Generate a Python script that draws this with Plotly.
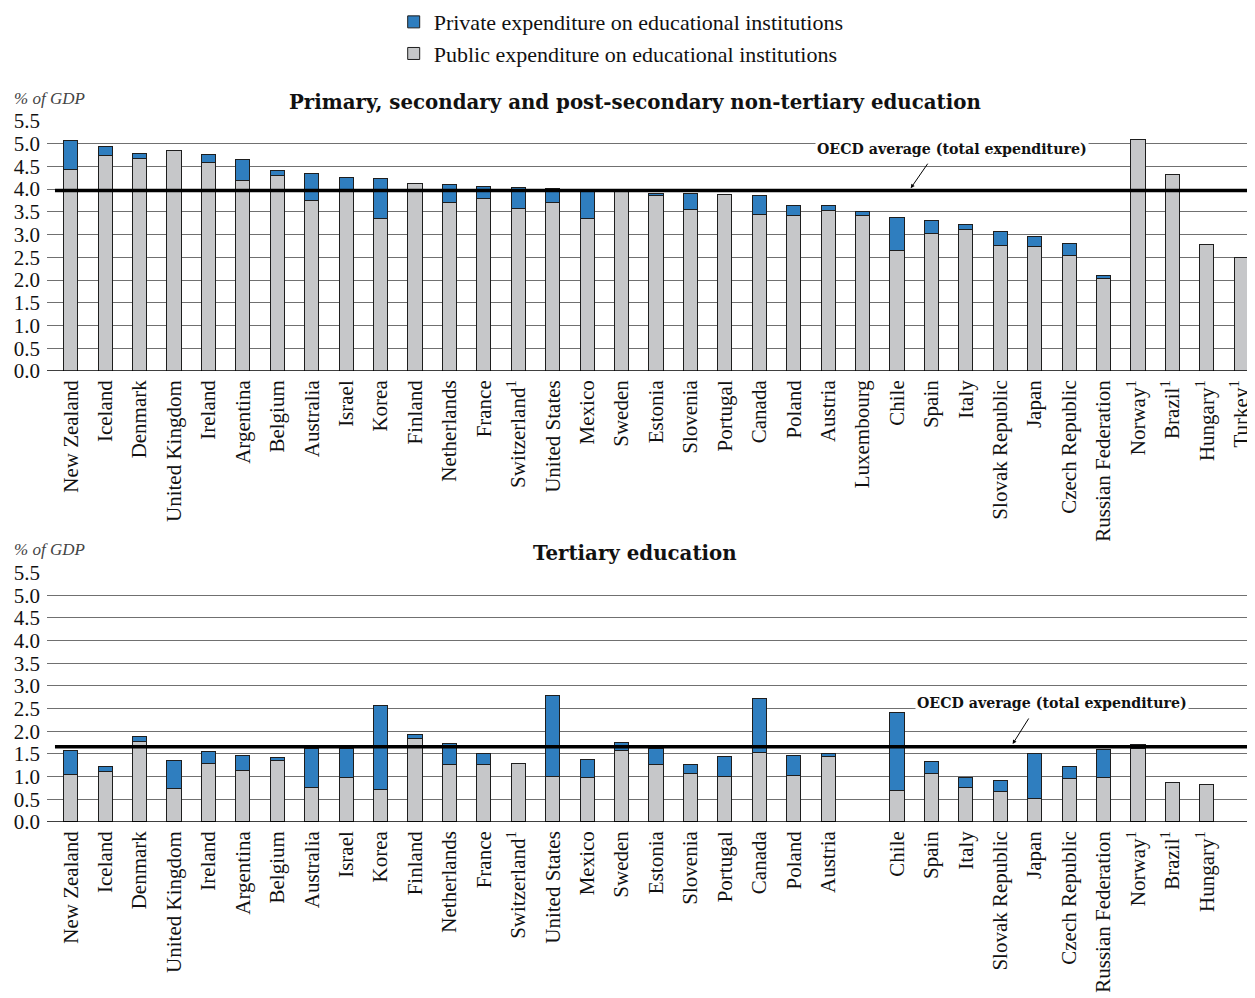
import plotly.graph_objects as go

# Countries (same order in both panels)
paises = [
    "New Zealand", "Iceland", "Denmark", "United Kingdom", "Ireland", "Argentina",
    "Belgium", "Australia", "Israel", "Korea", "Finland", "Netherlands", "France",
    "Switzerland<sup>1</sup>", "United States", "Mexico", "Sweden", "Estonia",
    "Slovenia", "Portugal", "Canada", "Poland", "Austria", "Luxembourg", "Chile",
    "Spain", "Italy", "Slovak Republic", "Japan", "Czech Republic",
    "Russian Federation", "Norway<sup>1</sup>", "Brazil<sup>1</sup>",
    "Hungary<sup>1</sup>", "Turkey<sup>1</sup>",
]

# Primary, secondary and post-secondary non-tertiary (% of GDP)
pub_primaria = [
    4.43, 4.74, 4.68, 4.84, 4.58, 4.19, 4.29, 3.74, 3.95, 3.35, 4.13, 3.71, 3.80,
    3.58, 3.71, 3.36, 3.96, 3.86, 3.56, 3.89, 3.45, 3.43, 3.54, 3.43, 2.65, 3.03,
    3.12, 2.76, 2.74, 2.54, 2.03, 5.10, 4.33, 2.79, 2.50,
]
priv_primaria = [
    0.64, 0.19, 0.11, 0.00, 0.19, 0.47, 0.11, 0.61, 0.30, 0.89, 0.00, 0.39, 0.26,
    0.46, 0.31, 0.60, 0.00, 0.05, 0.35, 0.00, 0.41, 0.22, 0.09, 0.08, 0.73, 0.28,
    0.11, 0.31, 0.22, 0.26, 0.07, 0.00, 0.00, 0.00, 0.00,
]

# Tertiary education (% of GDP); None = no data
pub_terciaria = [
    1.04, 1.12, 1.77, 0.73, 1.28, 1.13, 1.35, 0.76, 0.99, 0.72, 1.85, 1.26, 1.27,
    1.29, 1.00, 0.98, 1.58, 1.26, 1.07, 1.01, 1.53, 1.02, 1.44, None, 0.70, 1.07,
    0.76, 0.67, 0.51, 0.96, 0.98, 1.62, 0.88, 0.83, None,
]
priv_terciaria = [
    0.53, 0.11, 0.11, 0.63, 0.28, 0.33, 0.08, 0.87, 0.64, 1.86, 0.08, 0.46, 0.24,
    0.00, 1.79, 0.40, 0.17, 0.35, 0.20, 0.43, 1.20, 0.44, 0.07, None, 1.71, 0.27,
    0.22, 0.25, 1.01, 0.26, 0.61, 0.08, 0.00, 0.00, None,
]

promedio_ocde = [3.97, 1.66]
etiquetas_y = ["0.0", "0.5", "1.0", "1.5", "2.0", "2.5", "3.0", "3.5", "4.0", "4.5", "5.0", "5.5"]

# Bottom panel has no label where data is missing
etiquetas_terc = [p if v is not None else "" for p, v in zip(paises, pub_terciaria)]

FUENTE = "Liberation Serif"
FUENTE_TIT = "DejaVu Serif"
AZUL = "#2f7ebf"
GRIS = "#c6c7c9"
BORDE = "#1e1e1e"

pos = list(range(len(paises)))

fig = go.Figure()

paneles = [
    (pub_primaria, priv_primaria, "x", "y", True),
    (pub_terciaria, priv_terciaria, "x2", "y2", False),
]
for pub, priv, xa, ya, leyenda in paneles:
    fig.add_trace(go.Bar(
        x=pos, y=pub, xaxis=xa, yaxis=ya, width=0.41,
        name="Public expenditure on educational institutions",
        marker=dict(color=GRIS, line=dict(color=BORDE, width=1)),
        showlegend=leyenda,
    ))
    fig.add_trace(go.Bar(
        x=pos, y=priv, xaxis=xa, yaxis=ya, width=0.41,
        name="Private expenditure on educational institutions",
        marker=dict(color=AZUL, line=dict(color=BORDE, width=1)),
        showlegend=leyenda,
    ))

# OECD average lines
for val, xr, yr in [(promedio_ocde[0], "x domain", "y"), (promedio_ocde[1], "x2 domain", "y2")]:
    fig.add_shape(type="line", xref=xr, yref=yr, x0=0.0066, x1=0.994, y0=val, y1=val,
                  line=dict(color="black", width=3.5), layer="above")

# Baselines at zero
for xr, yr in [("x domain", "y"), ("x2 domain", "y2")]:
    fig.add_shape(type="line", xref=xr, yref=yr, x0=0, x1=1, y0=0, y1=0,
                  line=dict(color="black", width=1.5), layer="above")

eje_x = dict(range=[-0.69, 34.4], tickmode="array", tickvals=pos, tickangle=-90,
             showgrid=False, zeroline=False, showline=False, ticks="",
             ticklabelstandoff=4, ticklabeloverflow="allow",
             tickfont=dict(family=FUENTE, size=21, color="#111"), automargin=False)
eje_y = dict(range=[0, 5.52], tickmode="array",
             tickvals=[float(t) for t in etiquetas_y], ticktext=etiquetas_y,
             showgrid=True, gridcolor="#707070", gridwidth=1, zeroline=False,
             showline=False, ticks="", ticklabelstandoff=6,
             tickfont=dict(family=FUENTE, size=21, color="#111"), automargin=False)

# page adds an 8px body margin, so the figure is 8px smaller than the window
fig.update_layout(
    width=1247, height=990,
    barmode="stack",
    plot_bgcolor="white", paper_bgcolor="white",
    margin=dict(l=39, r=0, t=0, b=0, autoexpand=False),
    font=dict(family=FUENTE, color="#111"),
    xaxis=dict(eje_x, domain=[0, 1], anchor="y", ticktext=paises),
    xaxis2=dict(eje_x, domain=[0, 1], anchor="y2", ticktext=etiquetas_terc),
    yaxis=dict(eje_y, domain=[0.6333, 0.8869], anchor="x"),
    yaxis2=dict(eje_y, domain=[0.1778, 0.4306], anchor="x2"),
    legend=dict(
        x=0.287, y=1.007, xanchor="left", yanchor="top",
        traceorder="reversed", font=dict(family=FUENTE, size=22, color="#111"),
        bgcolor="rgba(0,0,0,0)",
    ),
    showlegend=True,
)

anotaciones = [
    dict(text="<b>Primary, secondary and post-secondary non-tertiary education</b>",
         xref="paper", yref="paper", x=0.4868, y=0.905,
         font=dict(family=FUENTE_TIT, size=19.8, color="#111")),
    dict(text="<b>Tertiary education</b>",
         xref="paper", yref="paper", x=0.4868, y=0.4495,
         font=dict(family=FUENTE_TIT, size=19.8, color="#111")),
    dict(text="<i>% of GDP</i>", xref="paper", yref="paper", x=-0.029, xanchor="left",
         y=0.909, font=dict(family=FUENTE, size=17, color="#444")),
    dict(text="<i>% of GDP</i>", xref="paper", yref="paper", x=-0.029, xanchor="left",
         y=0.4535, font=dict(family=FUENTE, size=17, color="#444")),
    dict(text="<b>OECD average (total expenditure)</b>", xref="x", yref="y",
         x=25.6, y=4.88, bgcolor="white", borderpad=1,
         font=dict(family=FUENTE_TIT, size=14.2, color="#111")),
    dict(text="<b>OECD average (total expenditure)</b>", xref="x2", yref="y2",
         x=28.5, y=2.63, bgcolor="white", borderpad=1,
         font=dict(family=FUENTE_TIT, size=14.2, color="#111")),
    dict(text="", xref="x", yref="y", x=24.4, y=4.02, ax=18, ay=-26,
         showarrow=True, arrowhead=2, arrowsize=0.8, arrowwidth=1, arrowcolor="black"),
    dict(text="", xref="x2", yref="y2", x=27.36, y=1.72, ax=17, ay=-27,
         showarrow=True, arrowhead=2, arrowsize=0.8, arrowwidth=1, arrowcolor="black"),
]
for a in anotaciones:
    a.setdefault("showarrow", False)
    if not a["showarrow"]:
        a.setdefault("xanchor", "center")
        a["yanchor"] = "middle"
    fig.add_annotation(**a)

fig.write_html("out.html")
